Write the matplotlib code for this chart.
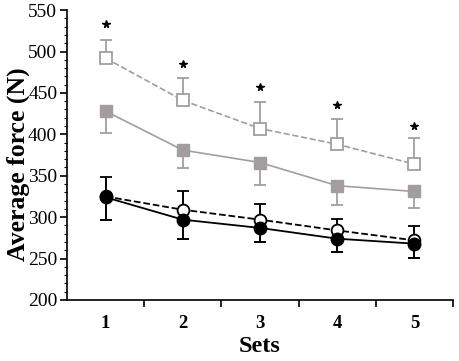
import matplotlib.pyplot as plt
from matplotlib.ticker import MultipleLocator, FixedLocator

sets = [1, 2, 3, 4, 5]

# gray squares
open_sq = [492, 441, 407, 388, 364]
open_sq_err = [22, 27, 32, 31, 31]
filled_sq = [428, 381, 366, 338, 331]
filled_sq_err = [26, 22, 27, 23, 20]

# black circles
open_circ = [325, 309, 297, 284, 272]
open_circ_err = [24, 23, 19, 14, 17]
filled_circ = [324, 297, 287, 274, 268]
filled_circ_err = [27, 23, 17, 16, 17]

stars = [533, 485, 457, 436, 410]

gray = "#a39d9f"

plt.rcParams["font.family"] = ["Liberation Serif", "DejaVu Serif"]

fig = plt.figure(figsize=(4.59, 3.61), dpi=100)
ax = fig.add_axes([0.146, 0.169, 0.841, 0.803])

# gray series (upper bars for open, lower for filled)
ax.errorbar(sets, open_sq, yerr=[[0] * 5, open_sq_err], color=gray, ls="--",
            lw=1.2, marker="s", ms=8, mfc="white", mec=gray, mew=1.3,
            capsize=4, elinewidth=1.3, capthick=1.3, zorder=3)
ax.errorbar(sets, filled_sq, yerr=[filled_sq_err, [0] * 5], color=gray, ls="-",
            lw=1.2, marker="s", ms=8, mfc=gray, mec=gray,
            capsize=4, elinewidth=1.3, capthick=1.3, zorder=3)

# black series
ax.errorbar(sets, open_circ, yerr=[[0] * 5, open_circ_err], color="black", ls="--",
            lw=1.3, marker="o", ms=8.5, mfc="white", mec="black", mew=1.3,
            capsize=4, elinewidth=1.4, capthick=1.4, zorder=4)
ax.errorbar(sets, filled_circ, yerr=[filled_circ_err, [0] * 5], color="black", ls="-",
            lw=1.3, marker="o", ms=9, mfc="black", mec="black",
            capsize=4, elinewidth=1.4, capthick=1.4, zorder=5)

ax.plot(sets, stars, ls="none", marker="*", ms=5.5, color="black")

ax.set_xlim(0.5, 5.5)
ax.set_ylim(200, 550)
ax.xaxis.set_major_locator(FixedLocator([1.5, 2.5, 3.5, 4.5, 5.5]))
ax.set_xticklabels([])
ax.xaxis.set_minor_locator(FixedLocator(sets))
ax.set_xticklabels([str(s) for s in sets], minor=True, fontsize=13.5, fontweight="bold")
ax.tick_params(axis="x", which="minor", length=0, pad=11)
ax.tick_params(axis="x", which="major", length=5, width=1.2, direction="out")

ax.yaxis.set_major_locator(MultipleLocator(50))
ax.yaxis.set_minor_locator(MultipleLocator(10))
ax.tick_params(axis="y", which="major", length=5, width=1.2, labelsize=14, pad=2)
ax.tick_params(axis="y", which="minor", length=2.5, width=0.8)

for side in ["top", "right"]:
    ax.spines[side].set_visible(False)
for side in ["left", "bottom"]:
    ax.spines[side].set_linewidth(1.2)

ax.set_xlabel("Sets", fontsize=17.5, fontweight="bold", labelpad=3)
ax.set_ylabel("Average force (N)", fontsize=18.5, fontweight="bold")
ax.yaxis.set_label_coords(-0.095, 0.47)

fig.savefig("out.png", dpi=100)
